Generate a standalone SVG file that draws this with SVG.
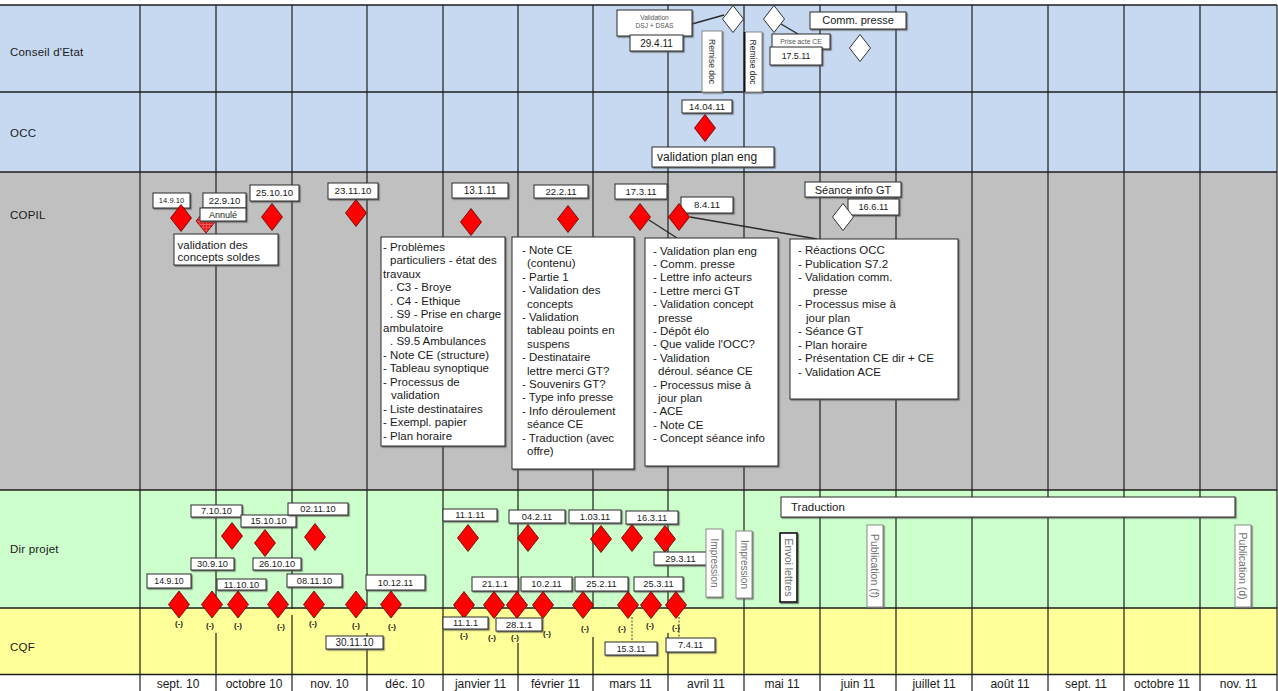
<svg xmlns="http://www.w3.org/2000/svg" width="1278" height="691" viewBox="0 0 1278 691">
<defs>
<style>
text{font-family:"Liberation Sans",Arial,Helvetica,sans-serif;fill:#1a1a1a}
.lane-label{font-size:11.5px;letter-spacing:0.2px}
.month{font-size:12px;text-anchor:middle}
.grid line{stroke:#1e1e1e;stroke-width:1.2}
.hsep line{stroke:#1e1e1e;stroke-width:1.4}
.box{fill:#fff;stroke:#2a2a2a;stroke-width:1;filter:url(#sh)}
.vbox{fill:#fff;stroke:#8a8a8a;stroke-width:1;filter:url(#sh)}
.date{font-size:9.3px;text-anchor:middle}
.note{font-size:11.5px}
.red{fill:#ff0000;stroke:#5a0000;stroke-width:0.8}
.open{fill:#fff;stroke:#333;stroke-width:1}
.vt{font-size:10px;fill:#707070;text-anchor:middle}
.minus{font-size:8px;font-weight:bold;text-anchor:middle}
.conn{stroke:#2a2a2a;stroke-width:1.4;fill:none}
.dash{stroke:#444;stroke-width:1;stroke-dasharray:2 1.5;fill:none}
.gap{fill:#ffff99}
</style>
<filter id="sh" x="-10%" y="-10%" width="130%" height="150%">
<feDropShadow dx="1.2" dy="1.2" stdDeviation="0.4" flood-color="#555" flood-opacity="0.8"/>
</filter>
<path id="dia" d="M0,-13.5 L10.5,0 L0,13.5 L-10.5,0 Z"/>
<pattern id="hatch" width="3.5" height="3.5" patternUnits="userSpaceOnUse">
<rect width="3.5" height="3.5" fill="#f01818"/>
<path d="M0,0H3.5M0,0V3.5" stroke="#ff9a9a" stroke-width="0.8"/>
</pattern>
</defs>

<!-- swimlane backgrounds -->
<g id="lanes">
<rect x="0" y="0" width="1278" height="691" fill="#fff"/>
<rect x="0" y="5" width="1277" height="87" fill="#c6d9f1"/>
<rect x="0" y="92" width="1277" height="80" fill="#c6d9f1"/>
<rect x="0" y="172" width="1277" height="318" fill="#c0c0c0"/>
<rect x="0" y="490" width="1277" height="118" fill="#ccffcc"/>
<rect x="0" y="608" width="1277" height="66" fill="#ffff99"/>
<text class="lane-label" x="10" y="56">Conseil d'Etat</text>
<text class="lane-label" x="10" y="137">OCC</text>
<text class="lane-label" x="10" y="219">COPIL</text>
<text class="lane-label" x="10" y="553">Dir projet</text>
<text class="lane-label" x="10" y="651">CQF</text>
</g>

<!-- month columns -->
<g id="grid" class="grid">
<line x1="140" y1="5" x2="140" y2="691"/>
<line x1="216" y1="5" x2="216" y2="691"/>
<line x1="292" y1="5" x2="292" y2="691"/>
<line x1="367" y1="5" x2="367" y2="691"/>
<line x1="443" y1="5" x2="443" y2="691"/>
<line x1="518" y1="5" x2="518" y2="691"/>
<line x1="593" y1="5" x2="593" y2="691"/>
<line x1="668" y1="5" x2="668" y2="691"/>
<line x1="744" y1="5" x2="744" y2="691"/>
<line x1="820" y1="5" x2="820" y2="691"/>
<line x1="896" y1="5" x2="896" y2="691"/>
<line x1="972" y1="5" x2="972" y2="691"/>
<line x1="1048" y1="5" x2="1048" y2="691"/>
<line x1="1124" y1="5" x2="1124" y2="691"/>
<line x1="1200" y1="5" x2="1200" y2="691"/>
<line x1="1277" y1="5" x2="1277" y2="691"/>
</g>
<g id="lane-separators" class="hsep">
<line x1="0" y1="5" x2="1277" y2="5"/>
<line x1="0" y1="92" x2="1277" y2="92"/>
<line x1="0" y1="172" x2="1277" y2="172"/>
<line x1="0" y1="490" x2="1277" y2="490"/>
<line x1="0" y1="608" x2="1277" y2="608"/>
<line x1="0" y1="674.5" x2="1277" y2="674.5"/>
</g>
<!-- label clearings in the CQF lane -->
<g id="cqf-clearings">
<rect class="gap" x="214" y="609" width="5" height="24"/>
<rect class="gap" x="289" y="609" width="5" height="6"/>
<rect class="gap" x="364" y="609" width="5" height="24"/>
<rect class="gap" x="515" y="609" width="5" height="34"/>
<rect class="gap" x="590" y="609" width="5" height="28"/>
<rect class="gap" x="665" y="609" width="5" height="24"/>
</g>

<g id="months">
<text class="month" x="178" y="688">sept. 10</text>
<text class="month" x="254" y="688">octobre 10</text>
<text class="month" x="329.5" y="688">nov. 10</text>
<text class="month" x="405" y="688">déc. 10</text>
<text class="month" x="480.5" y="688">janvier 11</text>
<text class="month" x="555.5" y="688">février 11</text>
<text class="month" x="630.5" y="688">mars 11</text>
<text class="month" x="706" y="688">avril 11</text>
<text class="month" x="782" y="688">mai 11</text>
<text class="month" x="858" y="688">juin 11</text>
<text class="month" x="934" y="688">juillet 11</text>
<text class="month" x="1010" y="688">août 11</text>
<text class="month" x="1086" y="688">sept. 11</text>
<text class="month" x="1162" y="688">octobre 11</text>
<text class="month" x="1238.5" y="688">nov. 11</text>
</g>

<!-- connectors -->
<g id="connectors">
<line class="conn" x1="692" y1="24" x2="724" y2="15"/>
<line class="conn" x1="781" y1="24" x2="798" y2="34"/>
<line class="conn" x1="649" y1="220" x2="677" y2="238"/>
<line class="conn" x1="690" y1="217" x2="817" y2="239"/>
<line class="dash" x1="632" y1="617" x2="632" y2="642"/>
<line class="dash" x1="679" y1="617" x2="679" y2="638"/>
</g>

<!-- Conseil d'Etat -->
<g id="ce-validation-dsj">
<rect class="box" x="617" y="10" width="75" height="26"/>
<text x="654.5" y="19.5" text-anchor="middle" style="font-size:6.6px;fill:#555">Validation</text>
<text x="654.5" y="27.5" text-anchor="middle" style="font-size:6.6px;fill:#555">DSJ + DSAS</text>
</g>
<g id="ce-29-4-11"><rect class="box" x="630" y="35" width="53" height="16"/><text class="date" x="656.5" y="46.5" style="font-size:10px">29.4.11</text></g>
<g id="ce-remise-doc-1"><rect class="vbox" x="702" y="31" width="20" height="61"/><text class="vt" transform="translate(712,61.5) rotate(90)" dy="0.35em" style="font-size:8.5px;fill:#333">Remise doc</text></g>
<g id="ce-remise-doc-2"><rect class="vbox" x="744" y="32" width="18" height="60"/><line x1="744.5" y1="32" x2="744.5" y2="92" stroke="#111" stroke-width="2"/><text class="vt" transform="translate(753,62) rotate(90)" dy="0.35em" style="font-size:8.5px;fill:#333">Remise doc</text></g>
<g id="ce-diamond-1"><use href="#dia" class="open" transform="translate(733,19)"/></g>
<g id="ce-diamond-2"><use href="#dia" class="open" transform="translate(774,19)"/></g>
<g id="ce-prise-acte"><rect class="box" x="772" y="34" width="58" height="15"/><text x="801" y="44" text-anchor="middle" style="font-size:6.8px;fill:#555">Prise acte CE</text></g>
<g id="ce-17-5-11"><rect class="box" x="770" y="47" width="52" height="18"/><text class="date" x="796" y="59" style="font-size:8.8px">17.5.11</text></g>
<g id="ce-comm-presse"><rect class="box" x="810" y="12" width="96" height="17"/><text x="858" y="24.3" text-anchor="middle" style="font-size:11px">Comm. presse</text></g>
<g id="ce-diamond-3"><use href="#dia" class="open" transform="translate(860,48)"/></g>

<!-- OCC -->
<g id="occ-14-04-11"><rect class="box" x="682" y="100" width="50" height="13"/><text class="date" x="707" y="109.8" style="font-size:9.4px">14.04.11</text></g>
<g id="occ-diamond"><use href="#dia" class="red" transform="translate(705,128)"/></g>
<g id="occ-plan-eng"><rect class="box" x="652" y="147" width="122" height="20"/><text x="657" y="161" style="font-size:12px">validation plan eng</text></g>

<!-- COPIL -->
<g id="copil-14-9-10"><rect class="box" x="153" y="193" width="37" height="15"/><text class="date" x="171.5" y="203" style="font-size:7.6px">14.9.10</text></g>
<g id="copil-diamond-14-9-10"><use href="#dia" class="red" transform="translate(181,218)"/></g>
<g id="copil-diamond-cancelled"><use href="#dia" transform="translate(206,221) scale(0.95,0.9)" style="fill:url(#hatch);stroke:#5a0000;stroke-width:0.8"/></g>
<g id="copil-22-9-10"><rect class="box" x="203" y="193" width="43" height="15"/><text class="date" x="224.5" y="203.8" style="font-size:9.5px">22.9.10</text></g>
<g id="copil-annule"><rect class="box" x="200" y="208" width="46" height="13"/><text class="date" x="223" y="217.8" style="font-size:9px">Annulé</text></g>
<g id="copil-concepts-soldes"><rect class="box" x="174" y="234" width="104" height="31"/><text class="note" x="177.5" y="249">validation des</text><text class="note" x="177.5" y="261">concepts soldes</text></g>
<g id="copil-25-10-10"><rect class="box" x="250" y="185" width="49" height="16"/><text class="date" x="274.5" y="196.3" style="font-size:9.6px">25.10.10</text></g>
<g id="copil-diamond-25-10-10"><use href="#dia" class="red" transform="translate(272,217)"/></g>
<g id="copil-23-11-10"><rect class="box" x="328" y="183" width="50" height="16"/><text class="date" x="353" y="194.3" style="font-size:9.7px">23.11.10</text></g>
<g id="copil-diamond-23-11-10"><use href="#dia" class="red" transform="translate(356,213)"/></g>
<g id="copil-13-1-11"><rect class="box" x="452" y="183" width="56" height="15"/><text class="date" x="480" y="194" style="font-size:10px">13.1.11</text></g>
<g id="copil-diamond-13-1-11"><use href="#dia" class="red" transform="translate(471,222)"/></g>
<g id="copil-22-2-11"><rect class="box" x="534" y="185" width="54" height="13"/><text class="date" x="561" y="194.8" style="font-size:9.5px">22.2.11</text></g>
<g id="copil-diamond-22-2-11"><use href="#dia" class="red" transform="translate(568,219)"/></g>
<g id="copil-17-3-11"><rect class="box" x="615" y="184" width="52" height="15"/><text class="date" x="641" y="194.8" style="font-size:9.5px">17.3.11</text></g>
<g id="copil-diamond-17-3-11"><use href="#dia" class="red" transform="translate(640,217)"/></g>
<g id="copil-8-4-11"><rect class="box" x="681" y="197" width="52" height="16"/><text class="date" x="707" y="208.3" style="font-size:9.6px">8.4.11</text></g>
<g id="copil-diamond-8-4-11"><use href="#dia" class="red" transform="translate(679,217)"/></g>
<g id="copil-seance-info-gt"><rect class="box" x="805" y="182" width="96" height="15"/><text x="853" y="193.5" text-anchor="middle" style="font-size:11px">Séance info GT</text></g>
<g id="copil-16-6-11"><rect class="box" x="848" y="199" width="51" height="16"/><text class="date" x="873.5" y="210.2" style="font-size:9.2px">16.6.11</text></g>
<g id="copil-diamond-16-6-11"><use href="#dia" class="open" transform="translate(843,217)"/></g>

<g id="copil-agenda-23-11-10">
<rect class="box" x="381" y="237" width="124" height="209"/>
<text class="note">
<tspan x="383" y="250.5">- Problèmes</tspan>
<tspan x="390" y="264">particuliers - état des</tspan>
<tspan x="383" y="277.5">travaux</tspan>
<tspan x="390" y="291">. C3 - Broye</tspan>
<tspan x="390" y="304.5">. C4 - Ethique</tspan>
<tspan x="390" y="318">. S9 - Prise en charge</tspan>
<tspan x="383" y="331.5">ambulatoire</tspan>
<tspan x="390" y="345">. S9.5 Ambulances</tspan>
<tspan x="383" y="358.5">- Note CE (structure)</tspan>
<tspan x="383" y="372">- Tableau synoptique</tspan>
<tspan x="383" y="385.5">- Processus de</tspan>
<tspan x="391" y="399">validation</tspan>
<tspan x="383" y="412.5">- Liste destinataires</tspan>
<tspan x="383" y="426">- Exempl. papier</tspan>
<tspan x="383" y="439.5">- Plan horaire</tspan>
</text>
</g>

<g id="copil-agenda-22-2-11">
<rect class="box" x="512" y="237" width="122" height="232"/>
<text class="note">
<tspan x="522" y="254">- Note CE</tspan>
<tspan x="527" y="267.4">(contenu)</tspan>
<tspan x="522" y="280.8">- Partie 1</tspan>
<tspan x="522" y="294.2">- Validation des</tspan>
<tspan x="527" y="307.6">concepts</tspan>
<tspan x="522" y="321">- Validation</tspan>
<tspan x="527" y="334.4">tableau points en</tspan>
<tspan x="527" y="347.8">suspens</tspan>
<tspan x="522" y="361.2">- Destinataire</tspan>
<tspan x="527" y="374.6">lettre merci GT?</tspan>
<tspan x="522" y="388">- Souvenirs GT?</tspan>
<tspan x="522" y="401.4">- Type info presse</tspan>
<tspan x="522" y="414.8">- Info déroulement</tspan>
<tspan x="527" y="428.2">séance CE</tspan>
<tspan x="522" y="441.6">- Traduction (avec</tspan>
<tspan x="527" y="455">offre)</tspan>
</text>
</g>

<g id="copil-agenda-17-3-11">
<rect class="box" x="645" y="238" width="133" height="228"/>
<text class="note">
<tspan x="653" y="254.5">- Validation plan eng</tspan>
<tspan x="653" y="267.9">- Comm. presse</tspan>
<tspan x="653" y="281.3">- Lettre info acteurs</tspan>
<tspan x="653" y="294.7">- Lettre merci GT</tspan>
<tspan x="653" y="308.1">- Validation concept</tspan>
<tspan x="658" y="321.5">presse</tspan>
<tspan x="653" y="334.9">- Dépôt élo</tspan>
<tspan x="653" y="348.3">- Que valide l'OCC?</tspan>
<tspan x="653" y="361.7">- Validation</tspan>
<tspan x="658" y="375.1">déroul. séance CE</tspan>
<tspan x="653" y="388.5">- Processus mise à</tspan>
<tspan x="658" y="401.9">jour plan</tspan>
<tspan x="653" y="415.3">- ACE</tspan>
<tspan x="653" y="428.7">- Note CE</tspan>
<tspan x="653" y="442.1">- Concept séance info</tspan>
</text>
</g>

<g id="copil-agenda-8-4-11">
<rect class="box" x="790" y="239" width="168" height="160"/>
<text class="note">
<tspan x="798" y="254">- Réactions OCC</tspan>
<tspan x="798" y="267.5">- Publication S7.2</tspan>
<tspan x="798" y="281">- Validation comm.</tspan>
<tspan x="813" y="294.5">presse</tspan>
<tspan x="798" y="308">- Processus mise à</tspan>
<tspan x="806" y="321.5">jour plan</tspan>
<tspan x="798" y="335">- Séance GT</tspan>
<tspan x="798" y="348.5">- Plan horaire</tspan>
<tspan x="798" y="362">- Présentation CE dir + CE</tspan>
<tspan x="798" y="375.5">- Validation ACE</tspan>
</text>
</g>

<!-- Dir projet -->
<g id="dp-7-10-10"><rect class="box" x="191" y="505" width="51" height="12"/><text class="date" x="216.5" y="514.3">7.10.10</text></g>
<g id="dp-15-10-10"><rect class="box" x="241" y="515" width="55" height="12"/><text class="date" x="268.5" y="524.3">15.10.10</text></g>
<g id="dp-02-11-10"><rect class="box" x="288" y="503" width="60" height="12"/><text class="date" x="318" y="512.3">02.11.10</text></g>
<g id="dp-diamond-7-10-10"><use href="#dia" class="red" transform="translate(232,536)"/></g>
<g id="dp-diamond-15-10-10"><use href="#dia" class="red" transform="translate(265,543)"/></g>
<g id="dp-diamond-02-11-10"><use href="#dia" class="red" transform="translate(315,537)"/></g>
<g id="dp-30-9-10"><rect class="box" x="191" y="558" width="43" height="12"/><text class="date" x="212.5" y="567.3">30.9.10</text></g>
<g id="dp-26-10-10"><rect class="box" x="253" y="558" width="48" height="12"/><text class="date" x="277" y="567.3">26.10.10</text></g>
<g id="dp-14-9-10"><rect class="box" x="147" y="574" width="44" height="14"/><text class="date" x="169" y="584.2" style="font-size:8.8px">14.9.10</text></g>
<g id="dp-11-10-10"><rect class="box" x="217" y="579" width="49" height="11"/><text class="date" x="241.5" y="588">11.10.10</text></g>
<g id="dp-08-11-10"><rect class="box" x="287" y="574" width="55" height="13"/><text class="date" x="314.5" y="583.8">08.11.10</text></g>
<g id="dp-10-12-11"><rect class="box" x="366" y="575" width="59" height="15"/><text class="date" x="395.5" y="585.8">10.12.11</text></g>
<g id="dp-11-1-11"><rect class="box" x="443" y="509" width="54" height="12"/><text class="date" x="470" y="518.3">11.1.11</text></g>
<g id="dp-diamond-11-1-11"><use href="#dia" class="red" transform="translate(468,538)"/></g>
<g id="dp-04-2-11"><rect class="box" x="509" y="510" width="56" height="13"/><text class="date" x="537" y="519.8">04.2.11</text></g>
<g id="dp-diamond-04-2-11"><use href="#dia" class="red" transform="translate(528,538)"/></g>
<g id="dp-1-03-11"><rect class="box" x="569" y="510" width="52" height="13"/><text class="date" x="595" y="519.8">1.03.11</text></g>
<g id="dp-diamond-1-03-11"><use href="#dia" class="red" transform="translate(601,539)"/></g>
<g id="dp-16-3-11"><rect class="box" x="626" y="511" width="52" height="13"/><text class="date" x="652" y="520.8">16.3.11</text></g>
<g id="dp-diamond-16-3-11"><use href="#dia" class="red" transform="translate(632,538)"/></g>
<g id="dp-diamond-29-3-11"><use href="#dia" class="red" transform="translate(665,539)"/></g>
<g id="dp-29-3-11"><rect class="box" x="654" y="552" width="53" height="13"/><text class="date" x="680.5" y="561.8">29.3.11</text></g>
<g id="dp-impression-1"><rect class="vbox" x="706" y="529" width="16" height="68"/><text class="vt" transform="translate(714,563) rotate(90)" dy="0.35em">Impression</text></g>
<g id="dp-impression-2"><rect class="vbox" x="736" y="531" width="16" height="67"/><text class="vt" transform="translate(744,564.5) rotate(90)" dy="0.35em">Impression</text></g>
<g id="dp-21-1-1"><rect class="box" x="472" y="577" width="46" height="14"/><text class="date" x="495" y="587.3">21.1.1</text></g>
<g id="dp-10-2-11"><rect class="box" x="521" y="577" width="51" height="14"/><text class="date" x="546.5" y="587.3">10.2.11</text></g>
<g id="dp-25-2-11"><rect class="box" x="575" y="577" width="53" height="14"/><text class="date" x="601.5" y="587.3">25.2.11</text></g>
<g id="dp-25-3-11"><rect class="box" x="634" y="577" width="49" height="14"/><text class="date" x="658.5" y="587.3">25.3.11</text></g>
<g id="dp-traduction"><rect class="box" x="781" y="497" width="454" height="20"/><text x="791" y="511" style="font-size:11.5px">Traduction</text></g>
<g id="dp-envoi-lettres"><rect class="vbox" x="780" y="533" width="17" height="69" style="stroke:#111;stroke-width:1.6"/><text class="vt" transform="translate(788.5,567.5) rotate(90)" dy="0.35em" style="font-size:10.5px">Envoi lettres</text></g>
<g id="dp-publication-f"><rect class="vbox" x="867" y="525" width="16" height="82"/><text class="vt" transform="translate(875,566) rotate(90)" dy="0.35em" style="font-size:10.5px">Publication (f)</text></g>
<g id="dp-publication-d"><rect class="vbox" x="1235" y="525" width="16" height="82"/><text class="vt" transform="translate(1243,566) rotate(90)" dy="0.35em" style="font-size:10.5px">Publication (d)</text></g>

<!-- milestones on the Dir projet / CQF boundary -->
<g id="cqf-milestones">
<use href="#dia" class="red" transform="translate(179,604.5)"/>
<use href="#dia" class="red" transform="translate(212,604.5)"/>
<use href="#dia" class="red" transform="translate(238,604.5)"/>
<use href="#dia" class="red" transform="translate(278,604.5)"/>
<use href="#dia" class="red" transform="translate(314,604.5)"/>
<use href="#dia" class="red" transform="translate(356,604.5)"/>
<use href="#dia" class="red" transform="translate(391,604.5)"/>
<use href="#dia" class="red" transform="translate(464,605)"/>
<use href="#dia" class="red" transform="translate(494,605)"/>
<use href="#dia" class="red" transform="translate(517,605)"/>
<use href="#dia" class="red" transform="translate(543,605)"/>
<use href="#dia" class="red" transform="translate(583,605)"/>
<use href="#dia" class="red" transform="translate(628,605)"/>
<use href="#dia" class="red" transform="translate(651,605)"/>
<use href="#dia" class="red" transform="translate(676,605)"/>
</g>

<!-- CQF -->
<g id="cqf-30-11-10"><rect class="box" x="326" y="636" width="57" height="13"/><text class="date" x="354.5" y="646" style="font-size:10px">30.11.10</text></g>
<g id="cqf-11-1-1"><rect class="box" x="443" y="617" width="45" height="12"/><text class="date" x="465.5" y="626.3">11.1.1</text></g>
<g id="cqf-28-1-1"><rect class="box" x="496" y="618" width="46" height="13"/><text class="date" x="519" y="627.8" style="font-size:9.6px">28.1.1</text></g>
<g id="cqf-15-3-11"><rect class="box" x="605" y="642" width="52" height="13"/><text class="date" x="631" y="651.5" style="font-size:8.8px">15.3.11</text></g>
<g id="cqf-7-4-11"><rect class="box" x="666" y="638" width="49" height="14"/><text class="date" x="690.5" y="648.3">7.4.11</text></g>
<g id="cqf-status">
<text class="minus" x="179" y="626">(-)</text>
<text class="minus" x="210" y="628">(-)</text>
<text class="minus" x="238" y="628">(-)</text>
<text class="minus" x="281" y="629">(-)</text>
<text class="minus" x="313" y="626">(-)</text>
<text class="minus" x="356" y="628">(-)</text>
<text class="minus" x="392" y="629">(-)</text>
<text class="minus" x="464" y="638">(-)</text>
<text class="minus" x="492" y="640">(-)</text>
<text class="minus" x="515" y="640">(-)</text>
<text class="minus" x="547" y="636">(-)</text>
<text class="minus" x="585" y="631">(-)</text>
<text class="minus" x="622" y="631">(-)</text>
<text class="minus" x="650" y="628">(-)</text>
<text class="minus" x="676" y="630">(-)</text>
</g>
</svg>
